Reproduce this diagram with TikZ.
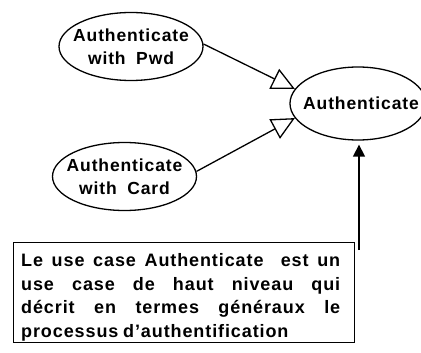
\documentclass[tikz,border=0pt]{standalone}
\usepackage{fontspec}
\newfontfamily\ucfont[LetterSpace=5]{Liberation Sans}
\newfontfamily\notefont[LetterSpace=5,WordSpace=0.8]{Liberation Sans}
\usetikzlibrary{arrows.meta,shapes.geometric}
\begin{document}
\begin{tikzpicture}[x=1pt,y=-1pt,
  uc/.style={draw, ellipse, line width=1.3pt, inner sep=0pt, minimum width=144pt, minimum height=68pt},
  uctext/.style={font=\ucfont\bfseries\fontsize{17.5}{22.7}\selectfont, align=center, inner sep=0pt},
  gen/.style={-{Triangle[open,length=23pt,width=22pt,line width=1.3pt]}, line width=1.3pt},
  dep/.style={-{Triangle[length=12pt,width=12pt]}, line width=1.3pt},
  notebox/.style={draw, line width=1.3pt, inner sep=0pt, minimum width=341pt, minimum height=100pt, anchor=north west},
  notetext/.style={font=\notefont\bfseries\fontsize{18}{23.8}\selectfont, inner sep=0pt, anchor=north west, text width=319pt, align=justify}
]
\useasboundingbox (0,0) rectangle (421,353);
\node[uc] (pwd) at (131,46.5) {};
\node[uctext] (pwdt) at (pwd) {Authenticate\\with\hspace{6pt} Pwd};
\node[uc] (card) at (124.5,176.5) {};
\node[uctext] (cardt) at (card) {Authenticate\\with\hspace{6pt} Card};
\node[uc, minimum width=136pt, minimum height=73pt] (auth) at (358,103.5) {};
\node[uctext] (autht) at (361,103) {Authenticate};
\draw[gen] (pwd.2) -- (auth.167);
\draw[gen] (card.4) -- (auth.193);
\node[notebox] (note) at (13,242) {};
\node[notetext] (notet) at (21,253) {Le use case Authenticate~ est un\linebreak use case de haut niveau qui\linebreak décrit en termes généraux le\linebreak processus d’authentification};
\coordinate (nt) at (359,250);
\draw[dep, shorten >=4pt] (nt) -- (nt |- auth.south);
\end{tikzpicture}
\end{document}
